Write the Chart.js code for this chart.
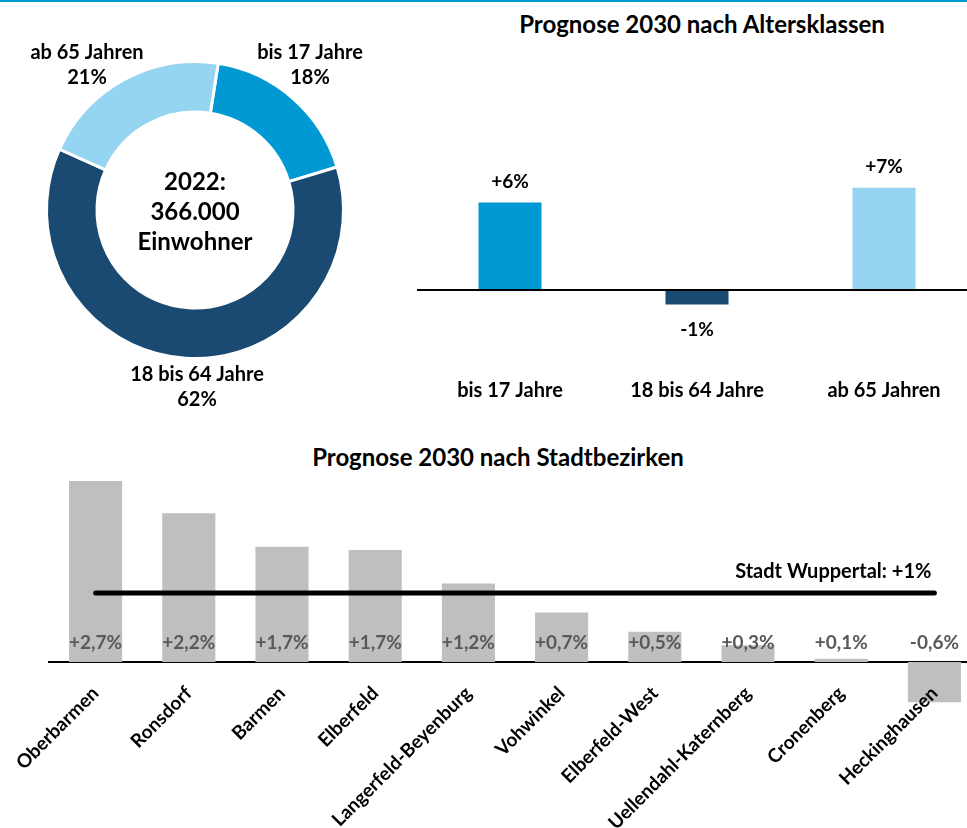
<!DOCTYPE html>
<html><head><meta charset="utf-8">
<script src="https://cdn.jsdelivr.net/npm/chart.js@4.4.0/dist/chart.umd.min.js"></script>
<style>
html,body{margin:0;padding:0;width:967px;height:828px;overflow:hidden;background:#fff;font-family:Lato, sans-serif;}
.abs{position:absolute;}
#topline{left:0;top:0;width:967px;height:2px;background:#0099d4;}
.title{font-weight:bold;font-size:24px;color:#000;white-space:nowrap;transform:translate(-50%,-50%);line-height:1;}
</style></head><body>
<div id="topline" class="abs"></div>
<div class="abs title" style="left:702px;top:24px">Prognose 2030 nach Altersklassen</div>
<div class="abs title" style="left:498px;top:457px">Prognose 2030 nach Stadtbezirken</div>
<canvas id="donut" class="abs" style="left:0;top:20px" width="400" height="410"></canvas>
<canvas id="age" class="abs" style="left:400px;top:140px" width="590" height="270"></canvas>
<canvas id="district" class="abs" style="left:0;top:470px" width="990" height="358"></canvas>
<script>
// ---- data ----
const ageGroups = ['bis 17 Jahre', '18 bis 64 Jahre', 'ab 65 Jahren'];
const share2022 = [18, 62, 21];
const change2030 = [6, -1, 7];
const centerLines = ['2022:', '366.000', 'Einwohner'];
const districts = ['Oberbarmen', 'Ronsdorf', 'Barmen', 'Elberfeld', 'Langerfeld-Beyenburg', 'Vohwinkel', 'Elberfeld-West', 'Uellendahl-Katernberg', 'Cronenberg', 'Heckinghausen'];
const districtChange = [2.70, 2.22, 1.72, 1.67, 1.17, 0.74, 0.45, 0.25, 0.05, -0.60];
const cityChange = 1.03;
const cityLabel = 'Stadt Wuppertal';

// ---- styles ----
const ageColors = ['#0099d4', '#1a4a72', '#96d5f2'];
const FONT = 'Lato';
Chart.defaults.font.family = FONT;

function fmtDe(v, d) {
  const p = Math.pow(10, d);
  const r = Math.round(v * p + 1e-9) / p;
  return (r > 0 ? '+' : '') + r.toFixed(d).replace('.', ',') + '%';
}

// ---- doughnut ----
const donutLabelOffsets = [[115, -145], [2, 177], [-108, -145]];
const donutPlugin = {
  id: 'donutText',
  afterDraw(chart) {
    const ctx = chart.ctx;
    const arcs = chart.getDatasetMeta(0).data;
    const cx = arcs[0].x, cy = arcs[0].y;
    ctx.save();
    ctx.fillStyle = '#000';
    ctx.textAlign = 'center';
    ctx.textBaseline = 'middle';
    ctx.font = 'bold 24px ' + FONT;
    centerLines.forEach((t, i) => ctx.fillText(t, cx, cy - 28 + i * 30));
    ctx.font = 'bold 20px ' + FONT;
    arcs.forEach((a, i) => {
      const [dx, dy] = donutLabelOffsets[i];
      ctx.fillText(ageGroups[i], cx + dx, cy + dy - 12);
      ctx.fillText(share2022[i] + '%', cx + dx, cy + dy + 13);
    });
    ctx.restore();
  }
};
new Chart(document.getElementById('donut'), {
  type: 'doughnut',
  data: { labels: ageGroups, datasets: [{ data: share2022, backgroundColor: ageColors, borderColor: '#fff', borderWidth: 3 }] },
  options: {
    responsive: false, animation: false, events: [],
    rotation: 9, cutout: '66%',
    layout: { padding: { left: 45, right: 55, top: 40, bottom: 70 } },
    plugins: { legend: { display: false }, tooltip: { enabled: false } }
  },
  plugins: [donutPlugin]
});

// ---- age change bars ----
const ageLabelPlugin = {
  id: 'ageLabels',
  afterDatasetsDraw(chart) {
    const ctx = chart.ctx;
    const bars = chart.getDatasetMeta(0).data;
    ctx.save();
    ctx.fillStyle = '#000';
    ctx.textAlign = 'center';
    ctx.textBaseline = 'middle';
    ctx.font = 'bold 19px ' + FONT;
    bars.forEach((b, i) => {
      const v = change2030[i];
      ctx.fillText(fmtDe(v, 0), b.x, v >= 0 ? b.y - 21 : b.y + 25);
    });
    ctx.restore();
  }
};
new Chart(document.getElementById('age'), {
  type: 'bar',
  data: { labels: ageGroups, datasets: [{ data: change2030, backgroundColor: ageColors, barPercentage: 0.337, categoryPercentage: 1 }] },
  options: {
    responsive: false, animation: false, events: [],
    layout: { padding: { left: 16.5, right: 12.5, top: 33.2, bottom: 0 } },
    scales: {
      x: {
        ticks: { font: { family: FONT, weight: 'bold', size: 20 }, color: '#000', padding: 1, maxRotation: 0 },
        grid: { display: false, drawTicks: false }, border: { display: false },
        afterFit: s => { s.height = 32.4; s.paddingLeft = 0; s.paddingRight = 0; }
      },
      y: {
        min: -6, max: 8,
        ticks: { display: false, stepSize: 1 },
        grid: { drawTicks: false, lineWidth: 2, color: c => (c.tick && c.tick.value === 0) ? '#000' : 'rgba(0,0,0,0)' },
        border: { display: false }
      }
    },
    plugins: { legend: { display: false }, tooltip: { enabled: false } }
  },
  plugins: [ageLabelPlugin]
});

// ---- district bars ----
const districtLabelPlugin = {
  id: 'districtLabels',
  afterDatasetsDraw(chart) {
    const ctx = chart.ctx;
    const y0 = chart.scales.y.getPixelForValue(0);
    const bars = chart.getDatasetMeta(1).data;
    const line = chart.getDatasetMeta(0).data;
    ctx.save();
    ctx.textAlign = 'center';
    ctx.textBaseline = 'middle';
    ctx.font = 'bold 19px ' + FONT;
    ctx.fillStyle = '#595959';
    bars.forEach((b, i) => ctx.fillText(fmtDe(districtChange[i], 1), b.x, y0 - 19));
    const last = line[line.length - 1];
    ctx.fillStyle = '#000';
    ctx.textAlign = 'right';
    ctx.font = 'bold 20px ' + FONT;
    ctx.fillText(cityLabel + ': ' + fmtDe(cityChange, 0), last.x - 3, last.y - 21);
    ctx.restore();
  }
};
new Chart(document.getElementById('district'), {
  type: 'bar',
  data: {
    labels: districts,
    datasets: [
      { type: 'line', data: districts.map(() => cityChange), borderColor: '#000', borderWidth: 5, pointRadius: 0, borderCapStyle: 'round', fill: false, order: 0 },
      { type: 'bar', data: districtChange, backgroundColor: '#bfbfbf', barPercentage: 0.57, categoryPercentage: 1, order: 1 }
    ]
  },
  options: {
    responsive: false, animation: false, events: [],
    layout: { padding: { left: 49, right: 9, top: 4.4, bottom: 112.4 } },
    scales: {
      x: {
        position: { y: 0 },
        ticks: { z: 1, font: { family: FONT, weight: 'bold', size: 19 }, color: '#000', minRotation: 45, maxRotation: 45, autoSkip: false, padding: 20 },
        grid: { display: false, drawTicks: false },
        border: { display: true, color: '#000', width: 2 },
        afterFit: s => { s.height = 0; s.paddingLeft = 0; s.paddingRight = 0; s.paddingTop = 0; s.paddingBottom = 0; }
      },
      y: { display: false, min: -0.8, max: 2.8 }
    },
    plugins: { legend: { display: false }, tooltip: { enabled: false } }
  },
  plugins: [districtLabelPlugin]
});
</script>
</body></html>
